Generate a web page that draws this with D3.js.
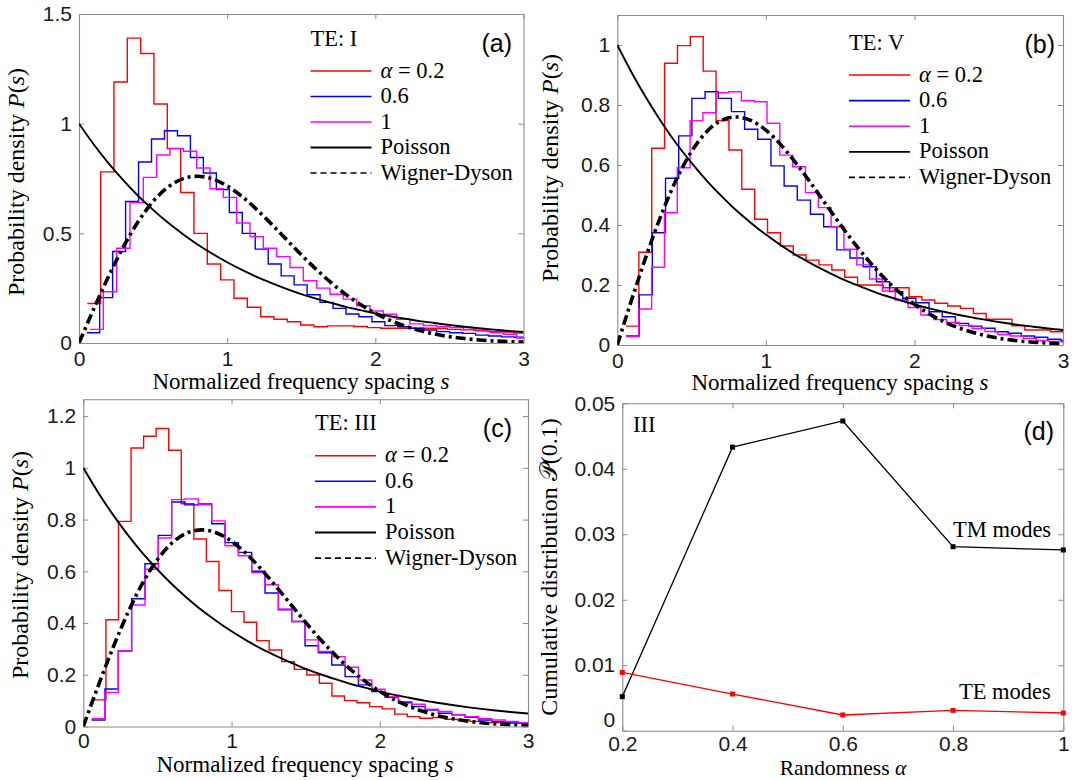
<!DOCTYPE html>
<html><head><meta charset="utf-8">
<script src="https://cdn.jsdelivr.net/npm/d3@7/dist/d3.min.js"></script>
<style>body{margin:0;background:#fff}svg{display:block}</style>
</head><body>
<svg id="chart" width="1077" height="780"></svg>
<script>
// ---------------- data ----------------
const sGrid = [0,0.1,0.2,0.3,0.4,0.5,0.6,0.7,0.8,0.9,1.0,1.1,1.2,1.3,1.4,1.5,1.6,1.7,1.8,1.9,2.0,2.1,2.2,2.3,2.4,2.5,2.6,2.7,2.8,2.9,3.0];
const poisson = [1,0.905,0.819,0.741,0.670,0.607,0.549,0.497,0.449,0.407,0.368,0.333,0.301,0.273,0.247,0.223,0.202,0.183,0.165,0.150,0.135,0.122,0.111,0.100,0.091,0.082,0.074,0.067,0.061,0.055,0.050];
const wignerDyson = [0,0.1559,0.3044,0.4391,0.5541,0.6454,0.7104,0.7484,0.7602,0.7483,0.7162,0.6680,0.6083,0.5415,0.4717,0.4025,0.3365,0.2759,0.2219,0.1752,0.1358,0.1033,0.0772,0.0567,0.0409,0.0290,0.0202,0.0138,0.0093,0.0062,0.0040];

const seriesNames = ["α = 0.2", "0.6", "1", "Poisson", "Wigner-Dyson"];

// panel (a) TE: I  histograms: [first bin edge, bin width], bin heights
const aRedBins = [0.056, 0.09];
const aRed = [0.18,0.78,1.19,1.39,1.32,1.09,0.887,0.686,0.50,0.36,0.288,0.204,0.163,0.12,0.108,0.097,0.082,0.074,0.078,0.078,0.075,0.07,0.067,0.067,0.067,0.067,0.066,0.062,0.06,0.058,0.052,0.05,0.045,0.044];
const aBlueBins = [0.052, 0.0875];
const aBlue = [0.047,0.207,0.417,0.645,0.825,0.93,0.968,0.945,0.846,0.775,0.70,0.595,0.50,0.428,0.36,0.306,0.265,0.22,0.185,0.158,0.132,0.12,0.097,0.079,0.074,0.067,0.059,0.052,0.047,0.044,0.036,0.032,0.028,0.026];
const aMagBins = [0.074, 0.09];
const aMag = [0.062,0.234,0.432,0.64,0.755,0.857,0.886,0.874,0.798,0.703,0.664,0.547,0.485,0.432,0.394,0.344,0.284,0.25,0.222,0.20,0.17,0.146,0.131,0.108,0.087,0.08,0.074,0.07,0.062,0.055,0.047,0.04,0.023];

// panel (b) TE: V
const bRedBins = [0.0585, 0.0866];
const bRed = [0.063,0.309,0.656,0.939,0.998,1.028,0.913,0.748,0.65,0.519,0.419,0.374,0.33,0.30,0.283,0.267,0.25,0.226,0.20,0.20,0.191,0.191,0.161,0.15,0.139,0.13,0.122,0.105,0.086,0.086,0.064,0.05,0.05,0.044,0.044];
const bBlueBins = [0.0585, 0.0887];
const bBlue = [0.03,0.167,0.374,0.556,0.697,0.822,0.844,0.822,0.778,0.719,0.686,0.597,0.53,0.483,0.436,0.394,0.317,0.29,0.261,0.211,0.178,0.156,0.141,0.111,0.094,0.072,0.063,0.056,0.044,0.039,0.03,0.026,0.019,0.015];
const bMagBins = [0.0585, 0.0863];
const bMag = [0.028,0.12,0.259,0.441,0.591,0.748,0.774,0.841,0.844,0.814,0.811,0.739,0.633,0.594,0.508,0.458,0.394,0.319,0.267,0.22,0.18,0.15,0.125,0.1,0.085,0.075,0.065,0.055,0.045,0.035,0.03,0.022,0.015,0.012,0.01];

// panel (c) TE: III
const cRedBins = [0.068, 0.0847];
const cRed = [0.103,0.413,0.793,1.077,1.122,1.152,1.068,0.861,0.725,0.638,0.526,0.444,0.403,0.332,0.296,0.251,0.221,0.199,0.167,0.118,0.10,0.092,0.077,0.068,0.048,0.038,0.032,0.035,0.028,0.025,0.02,0.015,0.015,0.012,0.012];
const cBlueBins = [0.056, 0.09];
const cBlue = [0.025,0.145,0.292,0.494,0.629,0.739,0.868,0.857,0.86,0.784,0.711,0.673,0.6,0.516,0.451,0.406,0.312,0.285,0.238,0.193,0.161,0.135,0.113,0.092,0.077,0.064,0.051,0.045,0.036,0.025,0.019,0.017,0.015];
const cMagBins = [0.056, 0.09];
const cMag = [0.03,0.131,0.292,0.47,0.608,0.729,0.877,0.88,0.857,0.795,0.699,0.66,0.595,0.548,0.454,0.406,0.335,0.29,0.27,0.229,0.18,0.144,0.115,0.096,0.086,0.067,0.058,0.045,0.038,0.03,0.025,0.02,0.015];

// panel (d)
const alphaVals = [0.2, 0.4, 0.6, 0.8, 1];
const tmModes = [0.0052, 0.0433, 0.0473, 0.0281, 0.0276];
const teModes = [0.0089, 0.0056, 0.0024, 0.0031, 0.0027];

// ticks
const sTicks = [0, 1, 2, 3];
const aYTicks = [0, 0.5, 1, 1.5];
const bYTicks = [0, 0.2, 0.4, 0.6, 0.8, 1];
const cYTicks = [0, 0.2, 0.4, 0.6, 0.8, 1, 1.2];
const dXTicks = [0.2, 0.4, 0.6, 0.8, 1];
const dYTicks = [0, 0.01, 0.02, 0.03, 0.04, 0.05];

// ---------------- drawing ----------------
const svg = d3.select("#chart");
const SERIF = "'Liberation Serif','DejaVu Serif',serif";
const SANS = "'Liberation Sans',Arial,sans-serif";
const AXIS = "#8a8a8a";
const RED = "#ff0000", BLUE = "#0000ff", MAG = "#ff00ff";

function frame(cfg) {
  const x = d3.scaleLinear().domain(cfg.xDomain).range([cfg.left, cfg.right]);
  const y = d3.scaleLinear().domain(cfg.yDomain).range([cfg.bottom, cfg.top]);
  const g = svg.append("g");
  const fmt = v => String(v);
  const ax = (axis, tr, labels, pad) => {
    const a = g.append("g").attr("transform", tr)
      .call(axis.tickSizeInner(-5).tickSizeOuter(0).tickPadding(pad || 7).tickFormat(labels ? fmt : ""));
    a.select(".domain").attr("stroke", AXIS).attr("stroke-width", 1.1);
    a.selectAll(".tick line").attr("stroke", AXIS).attr("stroke-width", 1);
    a.selectAll("text").attr("font-family", SANS).attr("font-size", 21).attr("fill", "#1a1a1a");
    return a;
  };
  ax(d3.axisBottom(x).tickValues(cfg.xTicks), `translate(0,${cfg.bottom})`, true, cfg.xPad || 8);
  ax(d3.axisTop(x).tickValues(cfg.xTicks), `translate(0,${cfg.top})`, false);
  const left = ax(d3.axisLeft(y).tickValues(cfg.yTicks), `translate(${cfg.left},0)`, true, 7);
  if (cfg.lowZeroUp) left.selectAll(".tick text").filter(d => d === 0).attr("dy", "-0.22em");
  ax(d3.axisRight(y).tickValues(cfg.yTicks), `translate(${cfg.right},0)`, false);
  const clipId = "clip-" + cfg.name;
  svg.append("clipPath").attr("id", clipId).append("rect")
    .attr("x", cfg.left).attr("y", cfg.top - 2)
    .attr("width", cfg.right - cfg.left).attr("height", cfg.bottom - cfg.top + 2);
  const plot = svg.append("g").attr("clip-path", `url(#${clipId})`);
  return {x, y, g, plot};
}

function histPoints(bins, vals) {
  const [s0, w] = bins;
  const pts = vals.map((v, i) => [s0 + i * w, v]);
  pts.push([s0 + vals.length * w, vals[vals.length - 1]]);
  return pts;
}

function histPanel(cfg) {
  const {x, y, g, plot} = frame(cfg);
  const stepLine = d3.line().x(d => x(d[0])).y(d => y(d[1])).curve(d3.curveStepAfter);
  const smooth = d3.line().x(d => x(d[0])).y(d => y(d[1])).curve(d3.curveMonotoneX);
  cfg.hists.forEach(h => {
    plot.append("path").attr("d", stepLine(histPoints(h.bins, h.vals)))
      .attr("fill", "none").attr("stroke", h.color).attr("stroke-width", 1.4);
  });
  plot.append("path").attr("d", smooth(sGrid.map((s, i) => [s, poisson[i]])))
    .attr("fill", "none").attr("stroke", "#000").attr("stroke-width", 1.9);
  plot.append("path").attr("d", smooth(sGrid.map((s, i) => [s, wignerDyson[i]])))
    .attr("fill", "none").attr("stroke", "#000").attr("stroke-width", 3.6)
    .attr("stroke-dasharray", "10,4,3,4");

  // legend
  const L = cfg.legend;
  g.append("text").attr("x", L.x).attr("y", L.titleY).text(cfg.title)
    .attr("font-family", SERIF).attr("font-size", 22.5);
  const styles = [
    {c: RED, w: 1.6, d: null}, {c: BLUE, w: 1.6, d: null}, {c: MAG, w: 1.6, d: null},
    {c: "#000", w: 1.8, d: null}, {c: "#000", w: 1.6, d: "6,4"}
  ];
  seriesNames.forEach((name, i) => {
    const yy = L.y0 + i * L.dy;
    g.append("line").attr("x1", L.x).attr("x2", L.x + 61).attr("y1", yy).attr("y2", yy)
      .attr("stroke", styles[i].c).attr("stroke-width", styles[i].w)
      .attr("stroke-dasharray", styles[i].d);
    const t = g.append("text").attr("x", L.x + 70).attr("y", yy + 6.5)
      .attr("font-family", SERIF).attr("font-size", 22.5);
    if (i === 0) {
      t.append("tspan").attr("font-style", "italic").text("α");
      t.append("tspan").text(" = 0.2");
    } else t.text(name);
  });
  panelTag(g, cfg.tag, cfg.tagX, cfg.tagY);
  axisLabels(g, cfg);
}

function panelTag(g, txt, xr, yb) {
  g.append("text").attr("x", xr).attr("y", yb).attr("text-anchor", "end")
    .attr("font-family", SANS).attr("font-size", 25).text(txt);
}

function axisLabels(g, cfg) {
  const xl = g.append("text").attr("x", cfg.xlab[0]).attr("y", cfg.xlab[1])
    .attr("text-anchor", "middle").attr("font-family", SERIF).attr("font-size", cfg.xlabSize || 23);
  cfg.xlabParts.forEach(p => xl.append("tspan").attr("font-style", p[1] ? "italic" : null).text(p[0]));
  const yl = g.append("text").attr("transform", `translate(${cfg.ylab[0]},${cfg.ylab[1]}) rotate(-90)`)
    .attr("text-anchor", "middle").attr("font-family", SERIF).attr("font-size", 24);
  cfg.ylabParts.forEach(p => yl.append("tspan").attr("font-style", p[1] ? "italic" : null).text(p[0]));
}

const sLabel = [["Normalized frequency spacing ", false], ["s", true]];
const pLabel = [["Probability density ", false], ["P", true], ["(", false], ["s", true], [")", false]];

histPanel({
  name: "a", left: 79, right: 523.5, top: 14, bottom: 343,
  xDomain: [0, 3], yDomain: [0, 1.5], xTicks: sTicks, yTicks: aYTicks,
  hists: [{bins: aRedBins, vals: aRed, color: RED}, {bins: aBlueBins, vals: aBlue, color: BLUE}, {bins: aMagBins, vals: aMag, color: MAG}],
  title: "TE: I", legend: {x: 310.5, titleY: 46, y0: 71, dy: 25.5},
  tag: "(a)", tagX: 512, tagY: 51.5,
  xlab: [301, 389], xlabParts: sLabel, ylab: [24, 182], ylabParts: pLabel
});
histPanel({
  name: "b", left: 617.3, right: 1063, top: 15, bottom: 345,
  xDomain: [0, 3], yDomain: [0, 1.1], xTicks: sTicks, yTicks: bYTicks,
  hists: [{bins: bRedBins, vals: bRed, color: RED}, {bins: bBlueBins, vals: bBlue, color: BLUE}, {bins: bMagBins, vals: bMag, color: MAG}],
  title: "TE: V", legend: {x: 849, titleY: 50, y0: 75, dy: 25.6},
  tag: "(b)", tagX: 1055, tagY: 53,
  xlab: [840, 390], xlabParts: sLabel, ylab: [558, 168], ylabParts: pLabel
});
histPanel({
  name: "c", left: 83.3, right: 528, top: 399.3, bottom: 726.5,
  xDomain: [0, 3], yDomain: [0, 1.265], xTicks: sTicks, yTicks: cYTicks, xPad: 7,
  hists: [{bins: cRedBins, vals: cRed, color: RED}, {bins: cBlueBins, vals: cBlue, color: BLUE}, {bins: cMagBins, vals: cMag, color: MAG}],
  title: "TE: III", legend: {x: 315, titleY: 430, y0: 455.7, dy: 25.6},
  tag: "(c)", tagX: 512, tagY: 437,
  xlab: [305, 772], xlabParts: sLabel, ylab: [28, 565], ylabParts: pLabel
});

// panel (d)
(function () {
  const cfg = {name: "d", left: 622.3, right: 1063.3, top: 403.3, bottom: 730.7, xPad: 5, lowZeroUp: true,
    xDomain: [0.2, 1], yDomain: [0, 0.05], xTicks: dXTicks, yTicks: dYTicks};
  const {x, y, g, plot} = frame(cfg);
  const line = d3.line().x((d, i) => x(alphaVals[i])).y(d => y(d));
  [[tmModes, "#000"], [teModes, RED]].forEach(([vals, col]) => {
    plot.append("path").attr("d", line(vals)).attr("fill", "none")
      .attr("stroke", col).attr("stroke-width", 1.3);
    g.selectAll(null).data(vals).enter().append("rect")
      .attr("x", (d, i) => x(alphaVals[i]) - 2.5).attr("y", d => y(d) - 2.5)
      .attr("width", 5).attr("height", 5).attr("fill", col);
  });
  const txt = (t, xx, yy, anchor) => g.append("text").attr("x", xx).attr("y", yy)
    .attr("text-anchor", anchor || "start").attr("font-family", SERIF).attr("font-size", 22.5).text(t);
  txt("III", 633, 432);
  txt("TM modes", 953, 537);
  txt("TE modes", 959, 698.5);
  panelTag(g, "(d)", 1054, 440);
  axisLabels(g, {xlab: [843, 775], xlabSize: 21.5, xlabParts: [["Randomness ", false], ["α", true]],
    ylab: [557, 567], ylabParts: [["Cumulative distribution ", false], ["𝒫", false], ["(0.1)", false]]});
})();
</script>
</body></html>
